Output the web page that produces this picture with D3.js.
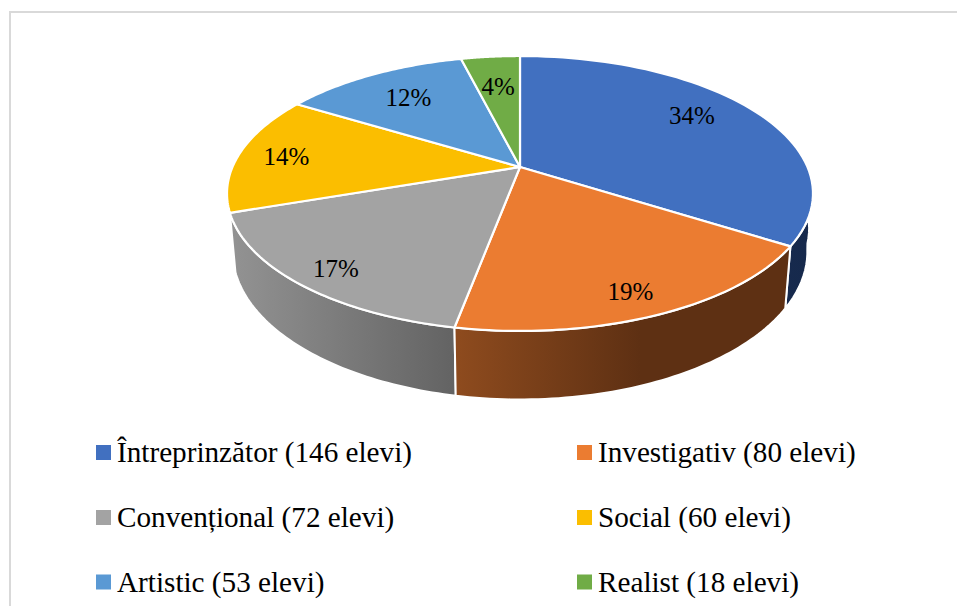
<!DOCTYPE html>
<html>
<head>
<meta charset="utf-8">
<script src="https://cdn.jsdelivr.net/npm/d3@7"></script>
<style>
  html, body { margin: 0; padding: 0; background: #fff; overflow: hidden; }
  text { font-family: "Liberation Serif", serif; fill: #000; }
</style>
</head>
<body>
<script>
// Chart data
const categories = ['Întreprinzător', 'Investigativ', 'Convențional', 'Social', 'Artistic', 'Realist'];
const students = [146, 80, 72, 60, 53, 18];
const percentLabels = ['34%', '19%', '17%', '14%', '12%', '4%'];
const sliceColors = ['#4170c0', '#eb7c31', '#a3a3a3', '#fbbe00', '#5a99d4', '#70ac46'];
const sideStops = [
  ['#1b3158', '#16294c'],
  ['#8e4b1e', '#5e3013'],
  ['#939393', '#636363'],
  ['#8a6c00', '#8a6c00'],
  ['#2e6a9e', '#2e6a9e'],
  ['#3f6428', '#3f6428']
];

const width = 957, height = 606;

const svg = d3.select('body')
  .append('svg')
  .attr('width', width)
  .attr('height', height);

// Chart frame, runs off the right and bottom of the page
svg.append('rect')
  .attr('x', 10).attr('y', 12)
  .attr('width', 1000).attr('height', 700)
  .attr('fill', '#fff')
  .attr('stroke', '#d9d9d9')
  .attr('stroke-width', 2);

// Tilted disc: maps a pie angle onto the page with perspective
const cx = 520;
const tilt = 0.1927;
const deg = Math.PI / 180;

// perspective pulls the slice edges a little clockwise on the near side
const warp = d3.scaleLinear()
  .domain([0, 122, 190, 345, 360].map(d => d * deg))
  .range([0, 122, 191, 346, 360].map(d => d * deg));

const projectTop = (a, r = 1) => {
  const b = warp(a);
  const u = r * Math.sin(b), v = -r * Math.cos(b), w = 1 - tilt * v;
  return [cx + 287.5 * u / w, (100.2 * v + 167) / w];
};
const projectBottom = a => {
  const b = warp(a);
  const u = Math.sin(b), v = -Math.cos(b), w = 1 - tilt * v;
  // rim bulges out slightly where it leaves the top disc on the right
  const rx = 282 + 7 * Math.max(0, 1 - Math.abs(v) / 0.15);
  return [cx + rx * u / w, (99.5 * v + 223) / w];
};

const pie = d3.pie().sort(null)(students);
const line = d3.line();

const arcPoints = (d, project) => d3.range(0, 61)
  .map(i => project(d.startAngle + (d.endAngle - d.startAngle) * i / 60));

// Horizontal gradients for the rim
const defs = svg.append('defs');
pie.forEach((d, i) => {
  const xs = arcPoints(d, projectTop).map(p => p[0]);
  const grad = defs.append('linearGradient')
    .attr('id', `side-${i}`)
    .attr('gradientUnits', 'userSpaceOnUse')
    .attr('y1', 0).attr('y2', 0);
  if (i === 1) {
    grad.attr('x1', 456).attr('x2', 640);
  } else {
    grad.attr('x1', d3.min(xs)).attr('x2', d3.max(xs));
  }
  grad.selectAll('stop')
    .data(sideStops[i])
    .join('stop')
    .attr('offset', (c, j) => j)
    .attr('stop-color', c => c);
});

// Rim, back to front
const depthOrder = pie.map((d, i) => i)
  .sort((a, b) => {
    const mid = d => (d.startAngle + d.endAngle) / 2;
    return -Math.cos(mid(pie[a])) - -Math.cos(mid(pie[b]));
  });

svg.append('g')
  .selectAll('path')
  .data(depthOrder)
  .join('path')
  .attr('d', i => line([
    ...arcPoints(pie[i], projectTop),
    ...arcPoints(pie[i], projectBottom).reverse()
  ]) + 'Z')
  .attr('fill', i => `url(#side-${i})`)
  .attr('stroke', '#fff')
  .attr('stroke-width', 2)
  .attr('stroke-linejoin', 'round');

// Top of the disc
const centre = [cx, 167];
svg.append('g')
  .selectAll('path')
  .data(pie)
  .join('path')
  .attr('d', d => line([centre, ...arcPoints(d, projectTop)]) + 'Z')
  .attr('fill', (d, i) => sliceColors[i])
  .attr('stroke', '#fff')
  .attr('stroke-width', 2.2)
  .attr('stroke-linejoin', 'round');

// Percent labels
const labelRadius = [0.77, 0.86, 0.87, 0.83, 0.73, 0.70];
const labelTurn = [-4.2, 1.2, -1, -0.5, 0, 0];
svg.append('g')
  .selectAll('text')
  .data(pie)
  .join('text')
  .attr('transform', (d, i) => {
    const a = (d.startAngle + d.endAngle) / 2 + labelTurn[i] * deg;
    const p = projectTop(a, labelRadius[i]);
    return `translate(${p[0]},${p[1]})`;
  })
  .attr('text-anchor', 'middle')
  .attr('dy', '0.35em')
  .attr('font-size', 25)
  .text((d, i) => percentLabels[i]);

// Legend, two columns and three rows
const legendX = d3.scaleOrdinal().domain([0, 1]).range([96, 577]);
const legendY = d3.scaleOrdinal().domain([0, 1, 2]).range([452.5, 517.5, 582]);

const legend = svg.append('g')
  .selectAll('g')
  .data(categories)
  .join('g')
  .attr('transform', (d, i) => `translate(${legendX(i % 2)},${legendY(Math.floor(i / 2))})`);

legend.append('rect')
  .attr('x', 0).attr('y', -7.5)
  .attr('width', 15).attr('height', 15)
  .attr('fill', (d, i) => sliceColors[i]);

legend.append('text')
  .attr('x', 21)
  .attr('dy', '0.33em')
  .attr('font-size', 29.2)
  .text((d, i) => `${d} (${students[i]} elevi)`);
</script>
</body>
</html>
